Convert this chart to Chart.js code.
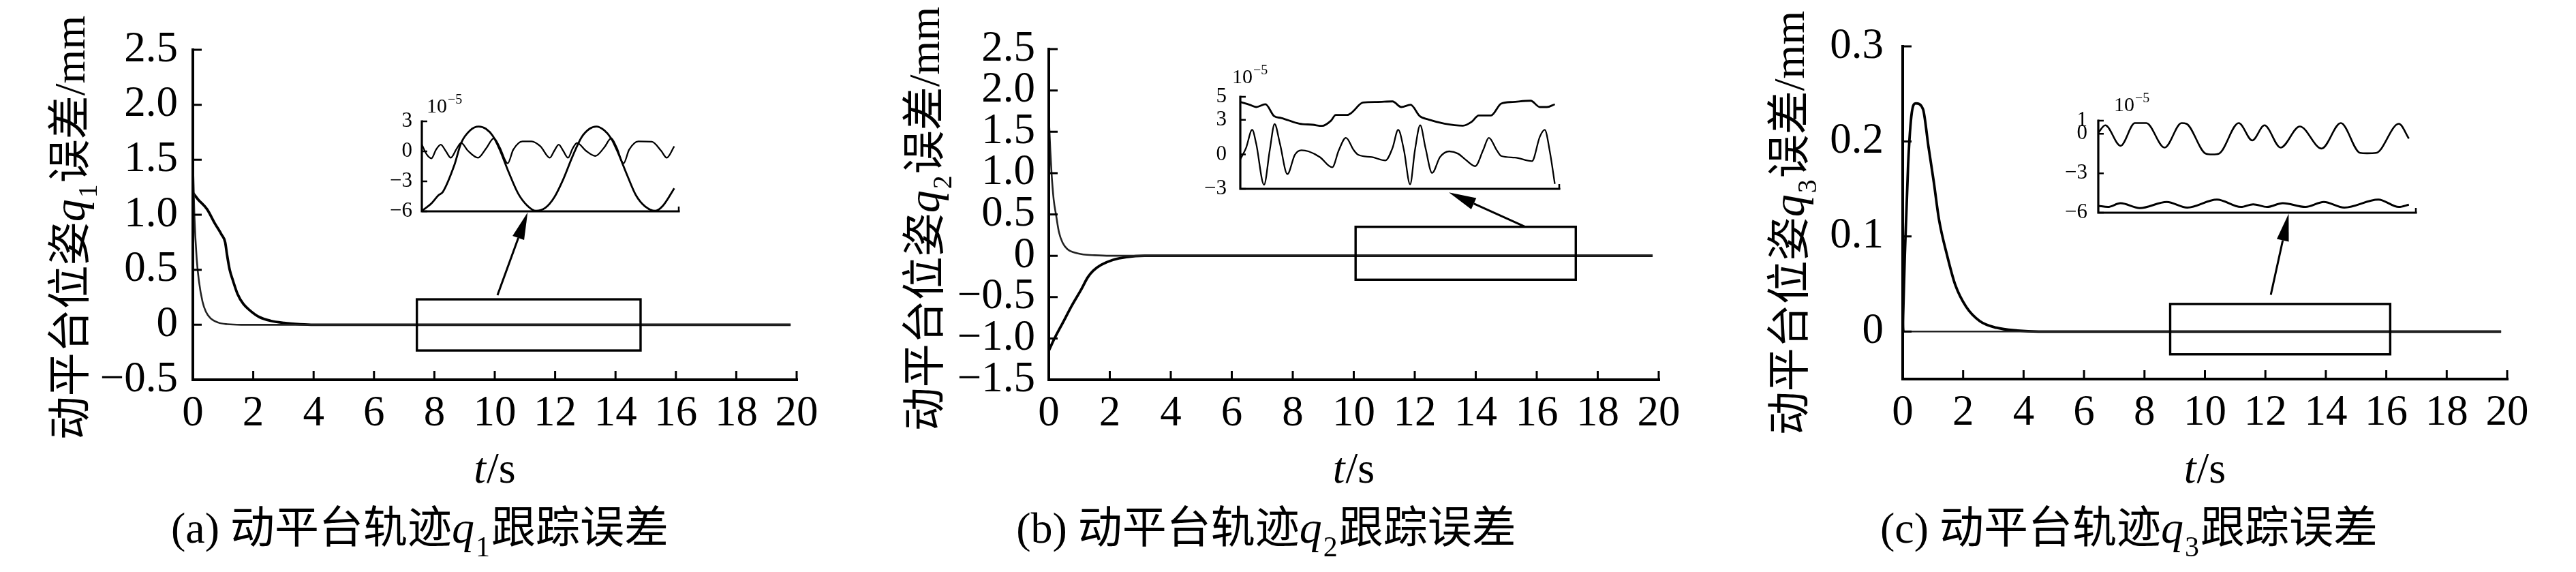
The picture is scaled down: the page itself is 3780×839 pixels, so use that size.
<!DOCTYPE html>
<html>
<head>
<meta charset="utf-8">
<title>动平台轨迹跟踪误差</title>
<script src="https://cdn.jsdelivr.net/npm/chart.js@4.4.1/dist/chart.umd.min.js"></script>
<style>
  html, body { margin: 0; padding: 0; background: #fff; }
  #wrap { position: relative; width: 3780px; height: 839px; background: #fff; overflow: hidden; }
  #wrap canvas { position: absolute; left: 0; top: 0; }
</style>
</head>
<body>
<div id="wrap">
  <canvas id="mainA" width="3780" height="839"></canvas>
  <canvas id="mainB" width="3780" height="839"></canvas>
  <canvas id="mainC" width="3780" height="839"></canvas>
  <canvas id="insetA" width="3780" height="839"></canvas>
  <canvas id="insetB" width="3780" height="839"></canvas>
  <canvas id="insetC" width="3780" height="839"></canvas>
</div>
<script>
// ---- 数据 ----
const xTickVals = [0, 2, 4, 6, 8, 10, 12, 14, 16, 18, 20];
const xTickLabels = ['0', '2', '4', '6', '8', '10', '12', '14', '16', '18', '20'];

// (a) q1
const aFastT = [0, 0.05, 0.13, 0.2, 0.32, 0.43, 0.58, 0.84, 1.14, 1.6, 3, 6, 19.8];
const aFastE = [1.54, 1.0, 0.59, 0.4, 0.21, 0.12, 0.06, 0.02, 0.005, 0, 0, 0, 0];
const aSlowT = [0, 0.17, 0.47, 0.73, 0.95, 1.07, 1.13, 1.22, 1.33, 1.48, 1.67, 1.89, 2.2, 2.57, 3.02, 3.55, 4.0, 19.8];
const aSlowE = [1.2, 1.14, 1.05, 0.92, 0.82, 0.75, 0.64, 0.5, 0.4, 0.28, 0.19, 0.13, 0.07, 0.036, 0.017, 0.005, 0, 0];
const aYTicks = [-0.5, 0, 0.5, 1, 1.5, 2, 2.5];
const aYLabels = ['−0.5', '0', '0.5', '1.0', '1.5', '2.0', '2.5'];

// (a) 局部放大 (×10^-5)
const aInBigT = [7.40, 7.68, 7.88, 8.01, 8.34, 8.54, 8.80, 9.05, 9.26, 9.46, 9.66, 9.92, 10.19, 10.45, 10.71, 10.98, 11.24, 11.50, 11.77, 12.03, 12.26, 12.46, 12.69, 12.89, 13.08, 13.35, 13.61, 13.87, 14.17, 14.40, 14.72];
const aInBigE = [-5.95, -5.2, -4.4, -4.05, -1.4, 0.84, 2.1, 2.48, 2.25, 1.53, 0.16, -2.1, -4.2, -5.4, -5.95, -5.65, -4.6, -2.8, -0.5, 1.4, 2.25, 2.48, 2.1, 1.3, -0.07, -2.35, -4.4, -5.5, -5.95, -5.4, -3.7];
const aInSmallT = [7.40, 7.54, 7.68, 7.81, 7.95, 8.09, 8.24, 8.41, 8.54, 8.74, 9.03, 9.26, 9.49, 9.66, 9.89, 10.05, 10.32, 10.58, 10.84, 11.11, 11.24, 11.37, 11.50, 11.64, 11.77, 11.90, 12.16, 12.43, 12.69, 12.89, 13.05, 13.25, 13.41, 13.68, 14.07, 14.34, 14.50, 14.72];
const aInSmallE = [0.68, -0.3, -0.7, 0.16, 0.68, 0.05, -0.64, 0.27, 0.84, 0.05, -0.64, 0.27, 1.3, 0.39, -1.2, 0.16, 1.0, 1.0, 0.5, -0.64, 0.05, 0.68, 0.05, -0.64, 0.27, 0.84, 0.05, -0.46, 0.39, 1.3, 0.39, -1.2, 0.16, 1.0, 0.96, 0.05, -0.64, 0.5];
const aInYTicks = [-6, -3, 0, 3];
const aInYLabels = ['−6', '−3', '0', '3'];

// (b) q2
const bFastT = [0, 0.05, 0.09, 0.16, 0.24, 0.33, 0.45, 0.61, 0.83, 1.13, 1.5, 2.0, 19.8];
const bFastE = [1.7, 1.27, 1.0, 0.68, 0.49, 0.29, 0.16, 0.08, 0.04, 0.016, 0.006, 0, 0];
const bSlowT = [0, 0.16, 0.46, 0.76, 1.06, 1.28, 1.46, 1.72, 2.1, 2.54, 3.14, 19.8];
const bSlowE = [-1.15, -1.02, -0.81, -0.6, -0.41, -0.26, -0.18, -0.11, -0.05, -0.016, 0, 0];
const bYTicks = [-1.5, -1, -0.5, 0, 0.5, 1, 1.5, 2, 2.5];
const bYLabels = ['−1.5', '−1.0', '−0.5', '0', '0.5', '1.0', '1.5', '2.0', '2.5'];

// (b) 局部放大
const bInUpT = [10.05, 10.26, 10.41, 10.62, 10.82, 10.98, 11.39, 11.70, 11.91, 12.11, 12.22, 12.48, 12.58, 12.84, 13.15, 13.51, 13.71, 13.92, 14.13, 14.33, 14.69, 15.11, 15.31, 15.47, 15.75, 15.98, 16.24, 16.65, 16.86, 17.02, 17.20];
const bInUpE = [4.55, 4.31, 4.11, 4.35, 3.32, 3.16, 2.67, 2.57, 2.47, 2.92, 3.42, 3.42, 3.62, 4.5, 4.55, 4.6, 4.11, 4.31, 3.32, 3.02, 2.67, 2.49, 2.83, 3.38, 3.38, 4.41, 4.55, 4.66, 4.11, 4.11, 4.35];
const bInLowT = [10.05, 10.18, 10.32, 10.41, 10.59, 10.72, 10.83, 10.95, 11.12, 11.29, 11.44, 11.60, 11.86, 12.14, 12.29, 12.45, 12.63, 12.73, 13.04, 13.35, 13.51, 13.64, 13.77, 13.91, 14.02, 14.14, 14.26, 14.41, 14.59, 14.80, 15.00, 15.16, 15.39, 15.57, 15.70, 15.88, 15.98, 16.29, 16.68, 16.86, 16.97, 17.09, 17.20];
const bInLowE = [-0.43, 0.55, 2.13, 0.95, -2.65, 0.36, 2.63, 0.95, -1.72, -0.04, 0.36, 0.26, -0.24, -1.13, 0.36, 1.44, 0.36, -0.04, -0.24, -0.53, 0.55, 2.13, 0.36, -2.61, 0.36, 2.53, 0.55, -1.62, -0.24, 0.26, 0.06, -0.43, -1.03, 0.36, 1.44, 0.36, -0.14, -0.28, -0.59, 1.54, 2.13, 0.16, -2.57];
const bInYTicks = [-3, 0, 3, 5];
const bInYLabels = ['−3', '0', '3', '5'];

// (c) q3
const cPeakT = [0, 0.07, 0.18, 0.3, 0.43, 0.67, 0.85, 1.03, 1.2, 1.47, 1.74, 2.1, 2.55, 3.1, 3.8, 4.5, 19.8];
const cPeakE = [0, 0.08, 0.176, 0.23, 0.24, 0.234, 0.195, 0.157, 0.118, 0.08, 0.049, 0.026, 0.011, 0.004, 0.001, 0, 0];
const cFlatT = [0, 0.02, 0.05, 19.8];
const cFlatE = [0.052, 0.01, 0, 0];
const cYTicks = [0, 0.1, 0.2, 0.3];
const cYLabels = ['0', '0.1', '0.2', '0.3'];

// (c) 局部放大
const cInUpT = [8.85, 9.01, 9.36, 9.69, 9.95, 10.37, 10.76, 10.87, 11.31, 11.47, 11.62, 12.07, 12.38, 12.66, 13.03, 13.47, 13.97, 14.41, 14.85, 15.01, 15.22, 15.74, 15.97];
const cInUpE = [0.08, 0.65, -0.91, 0.82, 0.82, -1.05, 0.82, 0.77, -1.5, -1.57, -1.5, 0.82, -0.5, 0.65, -1.05, 0.56, -1.12, 0.82, -1.45, -1.48, -1.45, 0.77, -0.36];
const cInLowT = [8.85, 9.07, 9.36, 9.80, 10.42, 10.89, 11.57, 12.12, 12.40, 12.72, 13.08, 13.60, 14.02, 14.49, 15.27, 15.74, 15.97];
const cInLowE = [-5.48, -5.56, -5.28, -5.65, -5.18, -5.61, -5.0, -5.56, -5.36, -5.56, -5.27, -5.56, -5.18, -5.61, -5.0, -5.56, -5.39];
const cInYTicks = [-6, -3, 0, 1];
const cInYLabels = ['−6', '−3', '0', '1'];

// ---- 版式 ----
const W = 3780, H = 839;
const SERIF = '"Liberation Serif", "Times New Roman", serif';
const CJK = '"Noto Sans CJK SC", "Noto Sans CJK JP", sans-serif';

function pts(ts, es) {
  return ts.map((t, i) => ({ x: t, y: es[i] }));
}

function curve(ts, es, width, color) {
  return {
    data: pts(ts, es),
    borderColor: color || '#000',
    borderWidth: width,
    pointRadius: 0,
    fill: false,
    cubicInterpolationMode: 'monotone'
  };
}

// 混排文字 (斜体 q、下标)
function drawParts(ctx, parts, x, y, rot, align) {
  ctx.save();
  ctx.translate(x, y);
  if (rot) ctx.rotate(rot);
  ctx.textBaseline = 'alphabetic';
  ctx.textAlign = 'left';
  let total = 0;
  parts.forEach(p => {
    ctx.font = p.font;
    p.w = ctx.measureText(p.text).width + (p.gap || 0);
    total += p.w;
  });
  let cx = align === 'left' ? 0 : -total / 2;
  parts.forEach(p => {
    ctx.font = p.font;
    ctx.fillText(p.text, cx, p.dy || 0);
    cx += p.w;
  });
  ctx.restore();
}

function yTitleParts(sub) {
  return [
    { text: '动平台位姿', font: '64px ' + CJK },
    { text: 'q', font: 'italic 66px ' + SERIF, gap: 2 },
    { text: sub, font: '40px ' + SERIF, dy: 18, gap: 2 },
    { text: '误差', font: '64px ' + CJK },
    { text: '/mm', font: '64px ' + SERIF }
  ];
}

function captionParts(tag, sub) {
  return [
    { text: tag, font: '64px ' + SERIF },
    { text: '动平台轨迹', font: '65px ' + CJK },
    { text: 'q', font: 'italic 66px ' + SERIF, gap: 2 },
    { text: sub, font: '42px ' + SERIF, dy: 20, gap: 2 },
    { text: '跟踪误差', font: '65px ' + CJK }
  ];
}

// 坐标轴、内向刻度、方框、箭头、文字
function makeDecor(d) {
  return {
    id: 'decor',
    afterDraw(chart) {
      const ctx = chart.ctx, a = chart.chartArea;
      const xs = chart.scales.x, ys = chart.scales.y;
      ctx.save();
      ctx.strokeStyle = '#000';
      ctx.fillStyle = '#000';

      ctx.lineWidth = d.axisW;
      ctx.lineCap = 'square';
      ctx.beginPath();
      ctx.moveTo(a.left, a.top);
      ctx.lineTo(a.left, a.bottom);
      ctx.lineTo(a.right, a.bottom);
      ctx.stroke();

      ctx.lineCap = 'butt';
      ctx.lineWidth = d.tickW;
      ctx.beginPath();
      (d.yTicks || []).forEach(v => {
        const p = ys.getPixelForValue(v);
        ctx.moveTo(a.left, p);
        ctx.lineTo(a.left + d.tickLen, p);
      });
      (d.xTicks || []).forEach(v => {
        const p = xs.getPixelForValue(v);
        ctx.moveTo(p, a.bottom);
        ctx.lineTo(p, a.bottom - d.tickLen);
      });
      if (d.xEndTick) {
        ctx.moveTo(a.right, a.bottom);
        ctx.lineTo(a.right, a.bottom - d.xEndTick);
      }
      ctx.stroke();

      if (d.box) {
        const x0 = xs.getPixelForValue(d.box.x[0]), x1 = xs.getPixelForValue(d.box.x[1]);
        const y0 = ys.getPixelForValue(d.box.y[1]), y1 = ys.getPixelForValue(d.box.y[0]);
        ctx.lineWidth = 3.4;
        ctx.strokeRect(x0, y0, x1 - x0, y1 - y0);
      }

      if (d.arrow) {
        const x1 = xs.getPixelForValue(d.arrow.from[0]), y1 = ys.getPixelForValue(d.arrow.from[1]);
        const x2 = xs.getPixelForValue(d.arrow.to[0]), y2 = ys.getPixelForValue(d.arrow.to[1]);
        const ang = Math.atan2(y2 - y1, x2 - x1), L = 40, hw = 9;
        const bx = x2 - L * Math.cos(ang), by = y2 - L * Math.sin(ang);
        ctx.lineWidth = 3;
        ctx.beginPath();
        ctx.moveTo(x1, y1);
        ctx.lineTo(bx, by);
        ctx.stroke();
        ctx.beginPath();
        ctx.moveTo(x2, y2);
        ctx.lineTo(bx + hw * Math.sin(ang), by - hw * Math.cos(ang));
        ctx.lineTo(bx - hw * Math.sin(ang), by + hw * Math.cos(ang));
        ctx.closePath();
        ctx.fill();
      }

      if (d.yTitle) {
        drawParts(ctx, yTitleParts(d.yTitle.sub), a.left + d.yTitle.dx, d.yTitle.cy, -Math.PI / 2);
      }
      if (d.xTitle) {
        drawParts(ctx, [
          { text: 't', font: 'italic 64px ' + SERIF, gap: 1 },
          { text: '/s', font: '64px ' + SERIF }
        ], (a.left + a.right) / 2, d.xTitle.y);
      }
      if (d.caption) {
        drawParts(ctx, captionParts(d.caption.tag, d.caption.sub), a.left + d.caption.dx, d.caption.y);
      }
      if (d.exp) {
        drawParts(ctx, [
          { text: '10', font: '30px ' + SERIF, gap: 1 },
          { text: '−5', font: '20px ' + SERIF, dy: -13 }
        ], a.left + d.exp.dx, a.top + d.exp.dy, 0, 'left');
      }
      ctx.restore();
    }
  };
}

function makeMain(id, p) {
  const a = p.area;
  return new Chart(document.getElementById(id), {
    type: 'line',
    data: { datasets: p.series },
    options: {
      responsive: false,
      animation: false,
      events: [],
      layout: { padding: { left: a.l - 200, right: W - a.r, top: a.t, bottom: H - a.b - 100 } },
      plugins: { legend: { display: false }, tooltip: { enabled: false } },
      scales: {
        x: {
          type: 'linear', min: 0, max: 20,
          grid: { display: false, drawTicks: false },
          border: { display: false },
          afterBuildTicks: s => { s.ticks = xTickVals.map(v => ({ value: v })); },
          afterFit: s => { s.height = 100; },
          ticks: {
            autoSkip: false, maxRotation: 0, minRotation: 0, padding: 13, color: '#000',
            font: { family: SERIF, size: 63 },
            callback: v => xTickLabels[xTickVals.indexOf(v)]
          }
        },
        y: {
          type: 'linear', min: p.yMin, max: p.yMax,
          grid: { display: false, drawTicks: false },
          border: { display: false },
          afterBuildTicks: s => { s.ticks = p.yTicks.map(v => ({ value: v })); },
          afterFit: s => { s.width = 200; },
          ticks: {
            autoSkip: false, padding: p.labelPad, color: '#000',
            font: { family: SERIF, size: 63 },
            callback: v => p.yLabels[p.yTicks.indexOf(v)]
          }
        }
      }
    },
    plugins: [makeDecor({
      axisW: 4, tickW: 3, tickLen: 13,
      yTicks: p.yTicks, xTicks: xTickVals,
      box: p.box, arrow: p.arrow,
      yTitle: p.yTitle, xTitle: { y: 708 }, caption: p.caption
    })]
  });
}

function makeInset(id, p) {
  const a = p.area;
  return new Chart(document.getElementById(id), {
    type: 'line',
    data: { datasets: p.series },
    options: {
      responsive: false,
      animation: false,
      events: [],
      layout: { padding: { left: a.l - 80, right: W - a.r, top: a.t, bottom: H - a.b } },
      plugins: { legend: { display: false }, tooltip: { enabled: false } },
      scales: {
        x: { type: 'linear', display: false, min: p.xMin, max: p.xMax },
        y: {
          type: 'linear', min: p.yMin, max: p.yMax,
          grid: { display: false, drawTicks: false },
          border: { display: false },
          afterBuildTicks: s => { s.ticks = p.yTicks.map(v => ({ value: v })); },
          afterFit: s => { s.width = 80; },
          ticks: {
            autoSkip: false, padding: p.labelPad, color: '#000',
            font: { family: SERIF, size: 31 },
            callback: v => p.yLabels[p.yTicks.indexOf(v)]
          }
        }
      }
    },
    plugins: [makeDecor({
      axisW: 3.2, tickW: 2.5, tickLen: 8, xEndTick: 7,
      yTicks: p.yTicks, exp: p.exp
    })]
  });
}

makeMain('mainA', {
  area: { l: 283, r: 1169, t: 73, b: 557 },
  yMin: -0.5, yMax: 2.5, yTicks: aYTicks, yLabels: aYLabels, labelPad: 22,
  box: { x: [7.42, 14.83], y: [-0.234, 0.231] },
  arrow: { from: [10.09, 0.268], to: [11.09, 1.022] },
  yTitle: { sub: '1', dx: -159, cy: 334 },
  caption: { tag: '(a) ', sub: '1', dx: 333, y: 796 },
  series: [curve(aFastT, aFastE, 2.6, '#222'), curve(aSlowT, aSlowE, 3.8)]
});

makeMain('mainB', {
  area: { l: 1539, r: 2434, t: 72, b: 557 },
  yMin: -1.5, yMax: 2.5, yTicks: bYTicks, yLabels: bYLabels, labelPad: 20,
  box: { x: [10.06, 17.28], y: [-0.29, 0.35] },
  arrow: { from: [15.62, 0.35], to: [13.12, 0.766] },
  yTitle: { sub: '2', dx: -161, cy: 321 },
  caption: { tag: '(b) ', sub: '2', dx: 319, y: 796 },
  series: [curve(bFastT, bFastE, 2.6, '#222'), curve(bSlowT, bSlowE, 3.8)]
});

makeMain('mainC', {
  area: { l: 2792, r: 3679, t: 68, b: 556 },
  yMin: -0.05, yMax: 0.3, yTicks: cYTicks, yLabels: cYLabels, labelPad: 28,
  box: { x: [8.85, 16.13], y: [-0.024, 0.029] },
  arrow: { from: [12.18, 0.0387], to: [12.77, 0.124] },
  yTitle: { sub: '3', dx: -145, cy: 327 },
  caption: { tag: '(c) ', sub: '3', dx: 332, y: 796 },
  series: [curve(cFlatT, cFlatE, 2.6, '#222'), curve(cPeakT, cPeakE, 3.8)]
});

makeInset('insetA', {
  area: { l: 619, r: 996, t: 178, b: 310 },
  xMin: 7.40, xMax: 14.85, yMin: -6, yMax: 3,
  yTicks: aInYTicks, yLabels: aInYLabels, labelPad: 14,
  exp: { dx: 7, dy: -13 },
  series: [curve(aInBigT, aInBigE, 2.8), curve(aInSmallT, aInSmallE, 2.3)]
});

makeInset('insetB', {
  area: { l: 1820, r: 2288, t: 142, b: 277 },
  xMin: 10.05, xMax: 17.30, yMin: -3, yMax: 5,
  yTicks: bInYTicks, yLabels: bInYLabels, labelPad: 20,
  exp: { dx: -12, dy: -20 },
  series: [curve(bInUpT, bInUpE, 2.8), curve(bInLowT, bInLowE, 2.3)]
});

makeInset('insetC', {
  area: { l: 3079, r: 3545, t: 177, b: 312 },
  xMin: 8.85, xMax: 16.13, yMin: -6, yMax: 1,
  yTicks: cInYTicks, yLabels: cInYLabels, labelPad: 16,
  exp: { dx: 23, dy: -14 },
  series: [curve(cInUpT, cInUpE, 2.6), curve(cInLowT, cInLowE, 3.0)]
});
</script>
</body>
</html>
